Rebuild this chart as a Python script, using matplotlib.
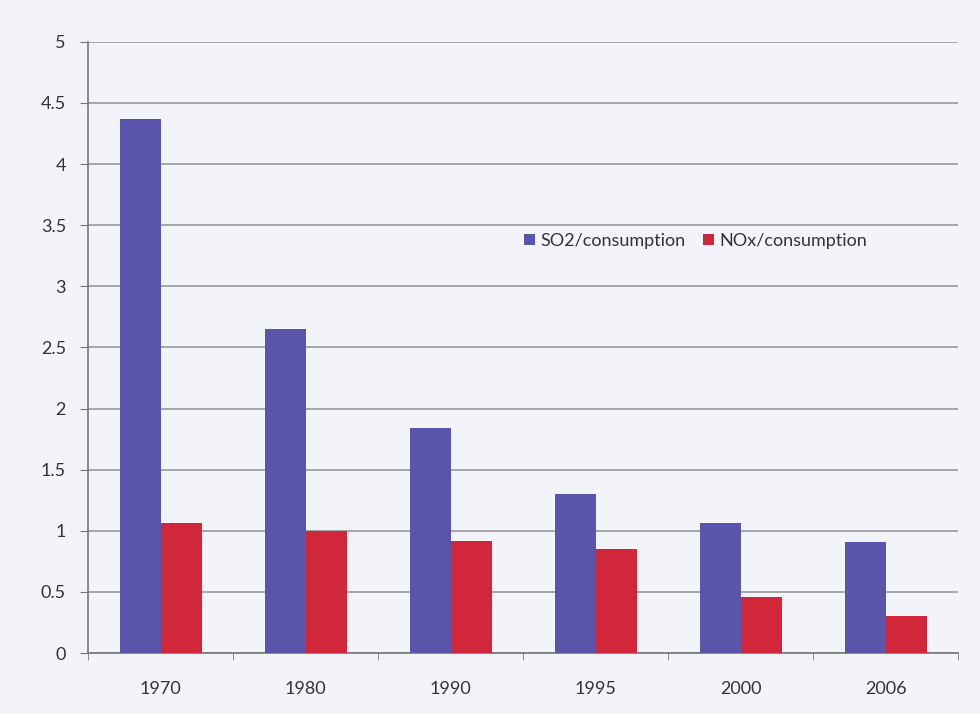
import numpy as np
import matplotlib.pyplot as plt

years = ['1970', '1980', '1990', '1995', '2000', '2006']
so2 = [4.37, 2.65, 1.84, 1.30, 1.06, 0.91]
nox = [1.06, 1.00, 0.92, 0.85, 0.46, 0.30]

plt.rcParams['font.family'] = ['Lato', 'DejaVu Sans']

bg = '#f2f4f9'
fig = plt.figure(figsize=(9.8, 7.14), dpi=100, facecolor=bg)
ax = fig.add_axes([0.09, 0.0854, 0.888, 0.856], facecolor=bg)

x = np.arange(len(years))
w = 0.283
ax.bar(x - w / 2, so2, w, color='#5a55aa', label='SO2/consumption', zorder=3)
ax.bar(x + w / 2, nox, w, color='#d0283a', label='NOx/consumption', zorder=3)

ax.set_xlim(-0.5, len(years) - 0.5)
ax.set_ylim(0, 5)
ax.set_yticks(np.arange(0, 5.01, 0.5))
ax.set_yticklabels(['0', '0.5', '1', '1.5', '2', '2.5', '3', '3.5', '4', '4.5', '5'])
ax.yaxis.grid(True, color='#909090', linewidth=1.1, zorder=0)

ax.set_xticks(x)
ax.set_xticklabels(years)
ax.set_xticks(np.arange(-0.5, len(years)), minor=True)
ax.tick_params(axis='x', which='major', length=0, pad=20, labelsize=13, colors='#333333')
ax.tick_params(axis='x', which='minor', length=5, color='#777777')
ax.tick_params(axis='y', length=6, color='#777777', labelsize=13, labelcolor='#333333', pad=10)

for s in ['top', 'right']:
    ax.spines[s].set_visible(False)
for s in ['left', 'bottom']:
    ax.spines[s].set_color('#777777')
    ax.spines[s].set_linewidth(1.2)

ax.legend(loc='center', bbox_to_anchor=(0.698, 0.674), ncol=2, frameon=False,
          fontsize=13, handlelength=0.6, handleheight=0.6, handletextpad=0.3,
          columnspacing=1.0, labelcolor='#333333')

fig.savefig('out.png', dpi=100, facecolor=bg)
